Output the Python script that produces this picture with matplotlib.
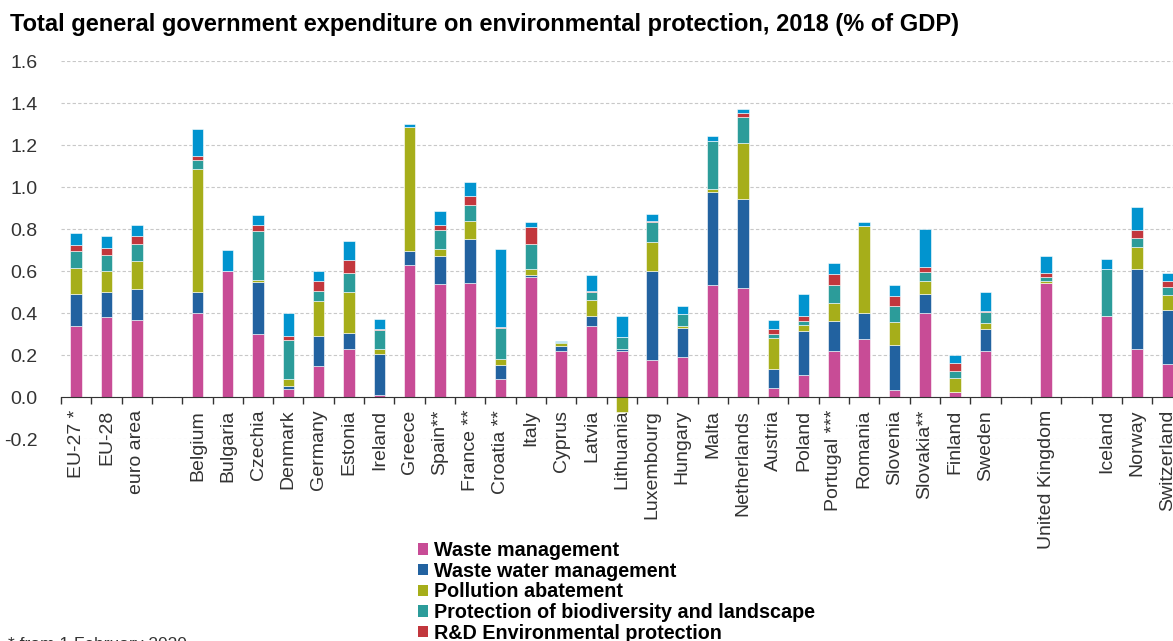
import matplotlib.pyplot as plt
from matplotlib.patches import Patch
import numpy as np

plt.rcParams['font.family'] = ['Liberation Sans', 'DejaVu Sans']

#Countries (empty strings are the gaps in the chart)
countries = ['EU-27 *', 'EU-28', 'euro area', '', 'Belgium', 'Bulgaria', 'Czechia', 'Denmark', 'Germany',
             'Estonia', 'Ireland', 'Greece', 'Spain**', 'France **', 'Croatia **', 'Italy', 'Cyprus', 'Latvia',
             'Lithuania', 'Luxembourg', 'Hungary', 'Malta', 'Netherlands', 'Austria', 'Poland', 'Portugal ***',
             'Romania', 'Slovenia', 'Slovakia**', 'Finland', 'Sweden', '', 'United Kingdom', '', 'Iceland',
             'Norway', 'Switzerland']

#% of GDP per function
waste = [0.34, 0.38, 0.37, 0, 0.40, 0.60, 0.30, 0.04, 0.15, 0.23, 0.01, 0.63, 0.54, 0.545, 0.085, 0.57,
         0.22, 0.34, 0.22, 0.175, 0.19, 0.535, 0.52, 0.045, 0.105, 0.22, 0.275, 0.035, 0.40, 0.025, 0.22,
         0, 0.545, 0, 0.385, 0.23, 0.16]
waste_water = [0.15, 0.12, 0.145, 0, 0.10, 0, 0.25, 0.012, 0.14, 0.075, 0.195, 0.065, 0.13, 0.21, 0.07, 0.013,
               0.023, 0.045, 0.012, 0.425, 0.14, 0.44, 0.425, 0.09, 0.21, 0.145, 0.125, 0.215, 0.09, 0.002, 0.107,
               0, 0, 0, 0, 0.38, 0.255]
pollution = [0.125, 0.10, 0.135, 0, 0.585, 0, 0.006, 0.034, 0.168, 0.197, 0.023, 0.59, 0.035, 0.084, 0.028, 0.029,
             0.015, 0.079, -0.068, 0.139, 0.011, 0.017, 0.263, 0.148, 0.028, 0.084, 0.417, 0.106, 0.062, 0.065, 0.028,
             0, 0.01, 0, 0, 0.103, 0.07]
biodiversity = [0.08, 0.075, 0.078, 0, 0.045, 0, 0.235, 0.187, 0.049, 0.091, 0.091, 0, 0.089, 0.078, 0.145, 0.119,
                0.007, 0.038, 0.057, 0.094, 0.056, 0.228, 0.126, 0.02, 0.022, 0.084, 0, 0.08, 0.046, 0.035, 0.053,
                0, 0.019, 0, 0.223, 0.045, 0.038]
rnd = [0.03, 0.033, 0.04, 0, 0.017, 0, 0.028, 0.02, 0.047, 0.061, 0.008, 0, 0.028, 0.041, 0.008, 0.077,
       0, 0.006, 0, 0.006, 0, 0, 0.017, 0.023, 0.024, 0.053, 0, 0.044, 0.02, 0.034, 0.004,
       0, 0.016, 0, 0, 0.039, 0.03]
other = [0.057, 0.057, 0.052, 0, 0.129, 0.10, 0.046, 0.107, 0.045, 0.089, 0.046, 0.016, 0.062, 0.065, 0.369, 0.027,
         0.003, 0.072, 0.10, 0.035, 0.039, 0.024, 0.022, 0.044, 0.10, 0.055, 0.016, 0.055, 0.181, 0.039, 0.089,
         0, 0.084, 0, 0.051, 0.106, 0.037]

series = [waste, waste_water, pollution, biodiversity, rnd, other]
labels = ['Waste management', 'Waste water management', 'Pollution abatement',
          'Protection of biodiversity and landscape', 'R&D Environmental protection',
          'Environmental protection n.e.c.']
colors = ['#c84c96', '#2262a0', '#a6ae1a', '#2c9c9a', '#c2373d', '#0194cf']

fig = plt.figure(figsize=(11.73, 6.41), dpi=100)
ax = fig.add_axes([61/1173, 1-439.3/641, 1121.5/1173, (439.3-61)/641])

x = np.arange(len(countries))
pos = np.zeros(len(countries))
neg = np.zeros(len(countries))
for vals, c in zip(series, colors):
    v = np.array(vals)
    bottom = np.where(v >= 0, pos, neg)
    ax.bar(x, v, bottom=bottom, width=0.38, color=c, edgecolor='white', linewidth=0.4, zorder=3)
    pos = pos + np.where(v > 0, v, 0)
    neg = neg + np.where(v < 0, v, 0)

#x axis sits at zero (set before ticks, set_position resets them)
for s in ['left', 'right', 'top']:
    ax.spines[s].set_visible(False)
ax.spines['bottom'].set_position(('data', 0))
ax.spines['bottom'].set_color('#333333')
ax.spines['bottom'].set_zorder(4)

ax.set_xlim(-0.5, len(countries)-0.5)
ax.set_ylim(-0.2, 1.6)
ax.set_yticks(np.arange(-0.2, 1.61, 0.2))
ax.set_yticklabels(['%.1f' % t for t in np.arange(-0.2, 1.61, 0.2)])
ax.yaxis.grid(True, linestyle=(0, (3, 2)), color='#c8c8c8', linewidth=0.8, zorder=0)
ax.tick_params(axis='y', length=0, pad=17, labelsize=14, labelcolor='#333333')

ax.set_xticks(x)
ax.set_xticklabels(countries)
ax.set_xticks(np.arange(-0.5, len(countries), 1), minor=True)
ax.tick_params(axis='x', which='major', length=0, pad=9, labelsize=14, labelcolor='#333333', labelrotation=90)
ax.tick_params(axis='x', which='minor', length=4.8, width=1, color='#333333', direction='out')

fig.text(10/1173, 1-31/641, 'Total general government expenditure on environmental protection, 2018 (% of GDP)',
         fontsize=17, fontweight='bold', va='baseline', ha='left', color='black')

handles = [Patch(facecolor=c, edgecolor='none') for c in colors]
fig.legend(handles, labels, loc='upper left', bbox_to_anchor=(418/1173, 1-541/641), frameon=False,
           prop={'weight': 'bold', 'size': 14.2}, handlelength=0.5, handleheight=0.5,
           handletextpad=0.3, labelspacing=0.085, borderpad=0, borderaxespad=0)

fig.text(8/1173, 1-637/641, '* from 1 February 2020', fontsize=12.5, va='top', ha='left', color='#333333')

plt.savefig('out.png', dpi=100)
